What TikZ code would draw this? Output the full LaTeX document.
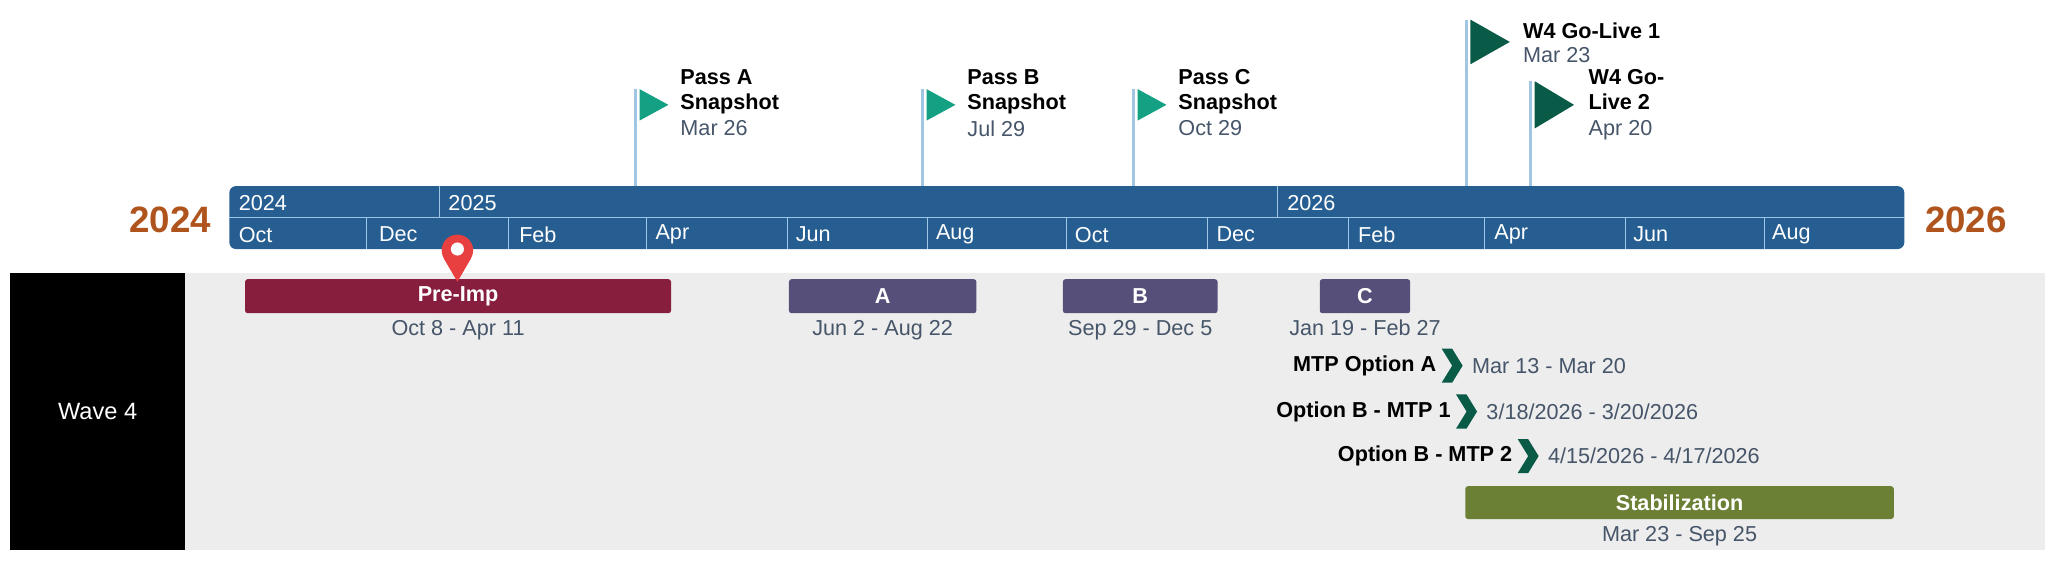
\documentclass[tikz,border=0pt]{standalone}
\usepackage{fontspec}
\setmainfont{Liberation Sans}
\usetikzlibrary{positioning,calc}
\definecolor{scalebar}{RGB}{38,94,145}
\definecolor{yearorange}{RGB}{176,84,30}
\definecolor{poleblue}{RGB}{160,198,230}
\definecolor{flagteal}{RGB}{20,160,130}
\definecolor{flagdark}{RGB}{10,90,72}
\definecolor{preimp}{RGB}{135,30,62}
\definecolor{passbar}{RGB}{86,79,122}
\definecolor{stabil}{RGB}{107,128,52}
\definecolor{swimgray}{RGB}{237,237,237}
\definecolor{datetxt}{RGB}{70,85,105}
\definecolor{pinred}{RGB}{232,64,64}
\tikzstyle{month}=[text=white,font=\fontsize{16.5}{16.5}\selectfont,anchor=west,inner sep=0pt]
\tikzstyle{bigyear}=[text=yearorange,font=\fontsize{28}{28}\selectfont\bfseries,inner sep=0pt]
\tikzstyle{mstitle}=[font=\fontsize{16.5}{19}\selectfont\bfseries,anchor=north west,align=left,inner sep=0pt]
\tikzstyle{msdate}=[text=datetxt,font=\fontsize{16.5}{16.5}\selectfont,anchor=north west,inner sep=0pt]
\tikzstyle{taskbar}=[rounded corners=2pt,text=white,font=\fontsize{16.5}{16.5}\selectfont\bfseries]
\tikzstyle{taskdate}=[text=datetxt,font=\fontsize{16.5}{16.5}\selectfont,inner sep=0pt]
\tikzstyle{pole}=[poleblue,line width=2pt]
\begin{document}
\begin{tikzpicture}[x=1pt,y=-1pt]
\useasboundingbox (0,0) rectangle (1568,429);
% swimlane
\fill[swimgray] (8,208) rectangle (1560,420);
\fill[black] (8,208) rectangle (141,420);
\node[text=white,font=\fontsize{18}{18}\selectfont] (wave) at (74.5,314) {Wave 4};
% time scale
\fill[scalebar,rounded corners=5pt] (175,142) rectangle (1453,190);
\draw[poleblue,line width=0.8pt] (175,166) -- (1453,166);
\foreach \x in {335,975} \draw[poleblue,line width=0.8pt] (\x,142) -- (\x,166);
\foreach \x in {280,388,493,601,708,814,921,1029,1133,1240,1346}
  \draw[poleblue,line width=0.8pt] (\x,166) -- (\x,190);
\node[month] (y24) at (182,155) {2024};
\node[month] (y25) at (342,155) {2025};
\node[month] (y26) at (982,155) {2026};
\foreach \x/\m [count=\i] in {182/Oct,289/Dec,396/Feb,500/Apr,607/Jun,714/Aug,820/Oct,928/Dec,1036/Feb,1140/Apr,1246/Jun,1352/Aug}
  \node[month] (m\i) at (\x,179) {\m};
\node[bigyear] (start) at (130,168) {2024};
\node[bigyear] (end) at (1500,168) {2026};
% milestones
\foreach \x/\t/\n/\d in {485/A/Pass A/Mar 26,704/B/Pass B/Jul 29,865/C/Pass C/Oct 29}{
  \coordinate (pole\t) at (\x,142);
  \coordinate (top\t) at (\x,68);
  \draw[pole] (pole\t) -- (top\t);
  \fill[flagteal] (\x+3,68) -- (\x+25,80) -- (\x+3,92) -- cycle;
  \node[mstitle] (lbl\t) at (\x+34,53) {\n\\Snapshot};
  \node[msdate] (date\t) at (\x+34,92) {\d};
}
\coordinate (poleG) at (1119,142);
\coordinate (topG) at (1119,15);
\draw[pole] (poleG) -- (topG);
\fill[flagdark] (1122,15) -- (1152,32) -- (1122,49) -- cycle;
\node[mstitle] (lblG) at (1162,17) {W4 Go-Live 1};
\node[msdate] (dateG) at (1162,36) {Mar 23};
\coordinate (poleH) at (1168,142);
\coordinate (topH) at (1168,62);
\draw[pole] (poleH) -- (topH);
\fill[flagdark] (1171,62) -- (1201,80) -- (1171,98) -- cycle;
\node[mstitle] (lblH) at (1212,53) {W4 Go-\\Live 2};
\node[msdate] (dateH) at (1212,92) {Apr 20};
% tasks
\node[taskbar,fill=preimp,minimum width=325pt,minimum height=26pt] (pre) at (349.5,226) {Pre-Imp};
\node[taskdate,below=5pt of pre] (preD) {Oct 8 - Apr 11};
\node[taskbar,fill=passbar,minimum width=143pt,minimum height=26pt] (tA) at (673.5,226) {A};
\node[taskdate,below=5pt of tA] (tAD) {Jun 2 - Aug 22};
\node[taskbar,fill=passbar,minimum width=118pt,minimum height=26pt] (tB) at (870,226) {B};
\node[taskdate,below=5pt of tB] (tBD) {Sep 29 - Dec 5};
\node[taskbar,fill=passbar,minimum width=69pt,minimum height=26pt] (tC) at (1041.5,226) {C};
\node[taskdate,below=5pt of tC] (tCD) {Jan 19 - Feb 27};
\node[taskbar,fill=stabil,minimum width=327pt,minimum height=25pt] (stab) at (1281.5,383.5) {Stabilization};
\node[taskdate,below=5pt of stab] (stabD) {Mar 23 - Sep 25};
% chevron tasks
\foreach \x/\y/\n/\d/\k in {1107/279/MTP Option A/{Mar 13 - Mar 20}/a,1118/314/Option B - MTP 1/{3/18/2026 - 3/20/2026}/b,1165/348/Option B - MTP 2/{4/15/2026 - 4/17/2026}/c}{
  \fill[flagdark] (\x-7,\y-13) -- (\x+1,\y-13) -- (\x+9,\y) -- (\x+1,\y+13) -- (\x-7,\y+13) -- (\x+1,\y) -- cycle;
  \node[font=\fontsize{16.5}{16.5}\selectfont\bfseries,anchor=east,inner sep=0pt] (chl\k) at (\x-11,\y) {\n};
  \node[taskdate,anchor=west] (chd\k) at (\x+16,\y) {\d};
}
% today pin
\coordinate (pintip) at (349,215);
\fill[pinred] (349,191) circle (12);
\fill[pinred] (338.5,197) -- (359.5,197) -- (pintip) -- cycle;
\fill[white] (349,190) circle (5);
\end{tikzpicture}
\end{document}
